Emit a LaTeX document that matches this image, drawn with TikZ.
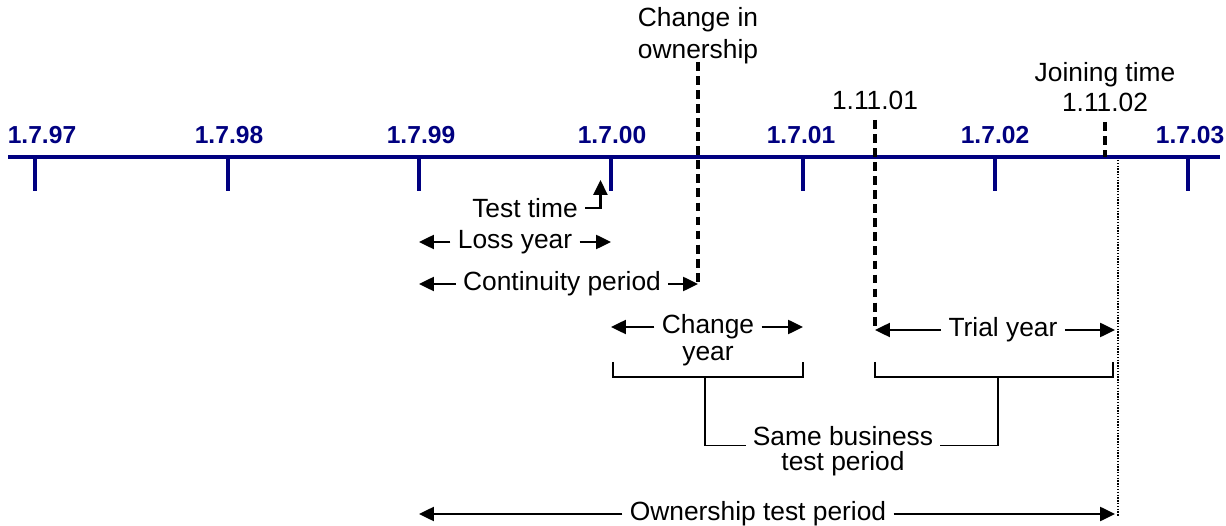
\documentclass[tikz,border=0pt]{standalone}
\usepackage{fontspec}
\setmainfont{Liberation Sans}
\usetikzlibrary{arrows.meta}
\definecolor{timenavy}{RGB}{0,0,128}
\tikzset{
  lbl/.style={font=\fontsize{15}{18}\selectfont, inner sep=4pt},
  yearlbl/.style={font=\fontsize{14}{16}\selectfont\bfseries, text=timenavy},
  timeaxis/.style={color=timenavy, line width=2.8pt},
  tickline/.style={color=timenavy, line width=2.6pt},
  arr/.style={line width=1.2pt, -{Triangle[length=8.5pt,width=8pt]}},
  dashmark/.style={line width=2pt, dash pattern=on 5pt off 3pt},
  brk/.style={line width=1pt}
}
\begin{document}
\begin{tikzpicture}[x=0.02cm,y=-0.02cm]
\useasboundingbox (0,0) rectangle (1226,526);

% time axis
\coordinate (t97) at (35,157);
\coordinate (t98) at (228,157);
\coordinate (t99) at (419,157);
\coordinate (t00) at (611,157);
\coordinate (t01) at (803,157);
\coordinate (t02) at (995,157);
\coordinate (t03) at (1188,157);
\draw[timeaxis] (8,157) -- (1220,157);
\draw[tickline] (t97) -- ++(0,34);
\draw[tickline] (t98) -- ++(0,34);
\draw[tickline] (t99) -- ++(0,34);
\draw[tickline] (t00) -- ++(0,34);
\draw[tickline] (t01) -- ++(0,34);
\draw[tickline] (t02) -- ++(0,34);
\draw[tickline] (t03) -- ++(0,34);
\node[yearlbl] (l97) at (42,135) {1.7.97};
\node[yearlbl] (l98) at (229,135) {1.7.98};
\node[yearlbl] (l99) at (421,135) {1.7.99};
\node[yearlbl] (l00) at (612,135) {1.7.00};
\node[yearlbl] (l01) at (801,135) {1.7.01};
\node[yearlbl] (l02) at (995,135) {1.7.02};
\node[yearlbl] (l03) at (1190,135) {1.7.03};

% events above the axis
\node[lbl, align=center] (own) at (698,36) {Change in\\ownership};
\coordinate (ownTop) at (698,62);
\node[lbl] (d01) at (875,100) {1.11.01};
\coordinate (d01Top) at (875,120);
\node[lbl] (join1) at (1105,75) {Joining time};
\node[lbl] (join2) at (1105,102) {1.11.02};
\coordinate (joinTop) at (1105,122);
\coordinate (join) at (1105,157);
\draw[dashmark] (joinTop) -- (join);
\draw[line width=1.2pt, dash pattern=on 0.8pt off 0.8pt] (1118,160) -- (1118,516);

% test time
\node[lbl] (tt) at (525,208) {Test time};
\draw[arr] (tt.east) -| ([xshift=-6pt]t00 |- 0,180);

% loss year
\node[lbl] (ly) at (515,242) {Loss year};
\draw[arr] (ly.west) -- (ly.west -| t99);
\draw[arr] (ly.east) -- (ly.east -| t00);

% continuity period
\node[lbl] (cp) at (562,284) {Continuity period};
\coordinate (cpEnd) at (698,284);
\draw[arr] (cp.west) -- (cp.west -| t99);
\draw[arr] (cp.east) -- (cpEnd);
\draw[dashmark] (ownTop) -- (cpEnd);

% change year
\node[lbl] (cy1) at (708,327) {Change};
\node[lbl] (cy2) at (708,356) {year};
\draw[arr] (cy1.west) -- (cy1.west -| t00);
\draw[arr] (cy1.east) -- (cy1.east -| t01);

% trial year
\node[lbl] (ty) at (1003,330) {Trial year};
\coordinate (tyEnd) at (1115,330);
\draw[arr] (ty.west) -- (ty.west -| d01Top);
\draw[arr] (ty.east) -- (tyEnd);
\draw[dashmark] (d01Top) -- (ty.west -| d01Top);

% same business test period
\coordinate (cb) at (705,377);
\coordinate (tb) at (998,377);
\draw[brk] (613,362) -- (613,377) -- (803,377) -- (803,362);
\draw[brk] (875,362) -- (875,377) -- (1113,377) -- (1113,362);
\node[lbl] (sb1) at (843,436) {Same business};
\node[lbl] (sb2) at (843,464) {test period};
\draw[brk] (cb) |- (sb1.base west);
\draw[brk] (tb) |- (sb1.base east);

% ownership test period
\node[lbl] (otp) at (758,514) {Ownership test period};
\draw[arr] (otp.west) -- (otp.west -| t99);
\draw[arr] (otp.east) -- (1115,514);
\end{tikzpicture}
\end{document}
